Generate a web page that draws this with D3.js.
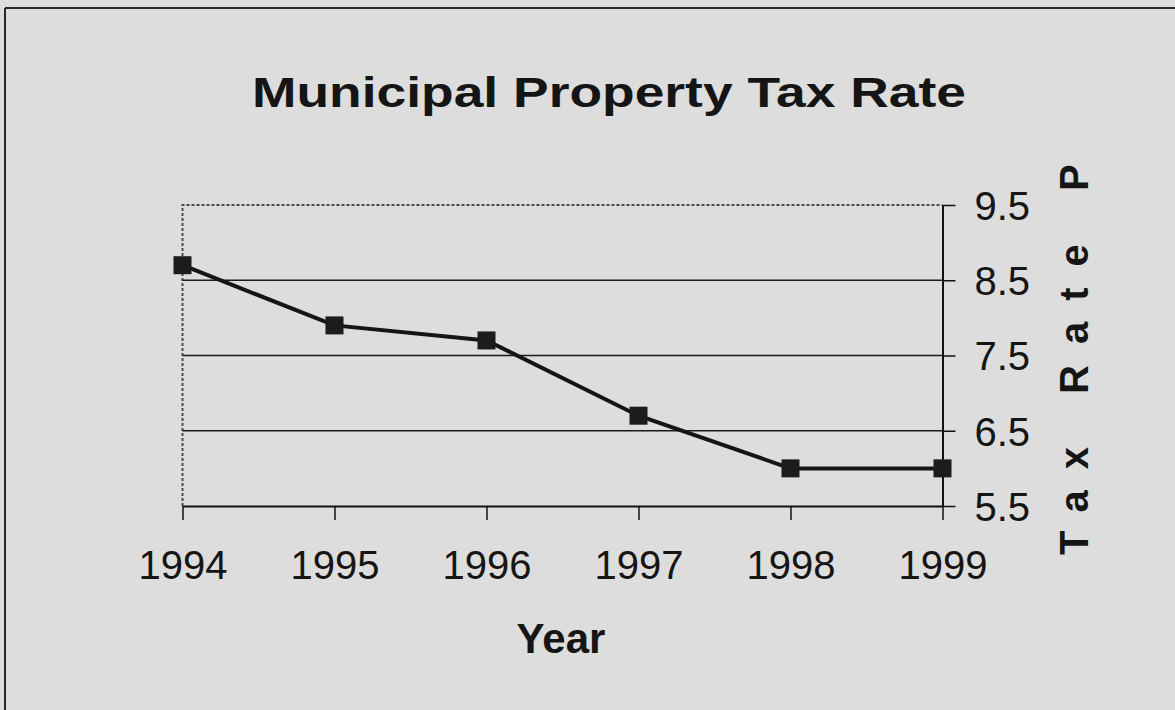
<!DOCTYPE html>
<html>
<head>
<meta charset="utf-8">
<script src="https://cdn.jsdelivr.net/npm/d3@7"></script>
<style>
  body { margin: 0; background: #dddddd; }
  svg { display: block; font-family: "Liberation Sans", Arial, sans-serif; }
</style>
</head>
<body>
<svg id="chart" width="1175" height="710"></svg>
<script>
// data
const years = [1994, 1995, 1996, 1997, 1998, 1999];
const rates = [8.7, 7.9, 7.7, 6.7, 6.0, 6.0];
const yTicks = [5.5, 6.5, 7.5, 8.5, 9.5];
const gridTicks = [6.5, 7.5, 8.5];

const chart = d3.select("#chart");

// background + outer frame (only top/left visible in original)
chart.append("rect")
    .attr("width", 1175).attr("height", 710)
    .attr("fill", "#dddddd");
chart.append("line")
    .attr("x1", 5).attr("x2", 1175).attr("y1", 8).attr("y2", 8)
    .attr("stroke", "#2a2a2a").attr("stroke-width", 2);
chart.append("line")
    .attr("x1", 5).attr("x2", 5).attr("y1", 8).attr("y2", 710)
    .attr("stroke", "#2a2a2a").attr("stroke-width", 2);

// scales
let x = d3.scalePoint()
    .domain(years)
    .range([182.5, 942.5]);

let y = d3.scaleLinear()
    .domain([5.5, 9.5])
    .range([506, 205]);

// plot area border (dotted, top and left)
chart.append("path")
    .attr("d", "M" + x(1994) + "," + y(5.5) + "V" + y(9.5) + "H" + x(1999))
    .attr("fill", "none")
    .attr("stroke", "#4a4a4a")
    .attr("stroke-width", 2)
    .attr("stroke-dasharray", "3,2");

// gridlines
chart.selectAll(".grid")
    .data(gridTicks)
    .enter()
    .append("line")
    .attr("class", "grid")
    .attr("x1", x(1994)).attr("x2", x(1999))
    .attr("y1", d => y(d)).attr("y2", d => y(d))
    .attr("stroke", "#1a1a1a")
    .attr("stroke-width", 1.4);

// x axis
let xAxis = d3.axisBottom(x)
    .tickSize(14)
    .tickSizeOuter(0)
    .tickPadding(31);
let xAxisGroup = chart.append("g")
    .attr("transform", "translate(0," + y(5.5) + ")")
    .call(xAxis);

// y axis on the right
let yAxis = d3.axisRight(y)
    .tickValues(yTicks)
    .tickFormat(d3.format(".1f"))
    .tickSize(13)
    .tickSizeOuter(0)
    .tickPadding(19);
let yAxisGroup = chart.append("g")
    .attr("transform", "translate(" + x(1999) + ",0)")
    .call(yAxis);

[xAxisGroup, yAxisGroup].forEach(function (g) {
    g.select(".domain").attr("stroke", "#111").attr("stroke-width", 2);
    g.selectAll(".tick line").attr("stroke", "#111").attr("stroke-width", 1.5);
    g.selectAll(".tick text")
        .attr("fill", "#151515")
        .style("font-size", "40px")
        .style("font-family", "'Liberation Sans', Arial, sans-serif");
});
yAxisGroup.selectAll(".tick text").attr("dy", "0.36em");

// line
let line = d3.line()
    .x((d, i) => x(years[i]))
    .y(d => y(d));
chart.append("path")
    .datum(rates)
    .attr("d", line)
    .attr("fill", "none")
    .attr("stroke", "#151515")
    .attr("stroke-width", 4);

// markers
chart.selectAll(".marker")
    .data(rates)
    .enter()
    .append("rect")
    .attr("class", "marker")
    .attr("x", (d, i) => x(years[i]) - 9)
    .attr("y", d => y(d) - 9)
    .attr("width", 18)
    .attr("height", 18)
    .attr("fill", "#1c1c1c");

// title
chart.append("text")
    .text("Municipal Property Tax Rate")
    .attr("x", 252)
    .attr("y", 107)
    .attr("textLength", 714)
    .attr("lengthAdjust", "spacingAndGlyphs")
    .attr("font-weight", 700)
    .style("font-size", "43px")
    .attr("fill", "#151515");

// x axis label
chart.append("text")
    .text("Year")
    .attr("x", 561)
    .attr("y", 653)
    .attr("text-anchor", "middle")
    .attr("font-weight", 700)
    .style("font-size", "42px")
    .attr("fill", "#151515");

// y axis label (spaced, rotated, clipped in the original)
chart.append("text")
    .text("Tax Rate P")
    .attr("transform", "translate(1088,555) rotate(-90)")
    .attr("letter-spacing", 21)
    .attr("font-weight", 700)
    .style("font-size", "40px")
    .attr("fill", "#151515");
</script>
</body>
</html>
